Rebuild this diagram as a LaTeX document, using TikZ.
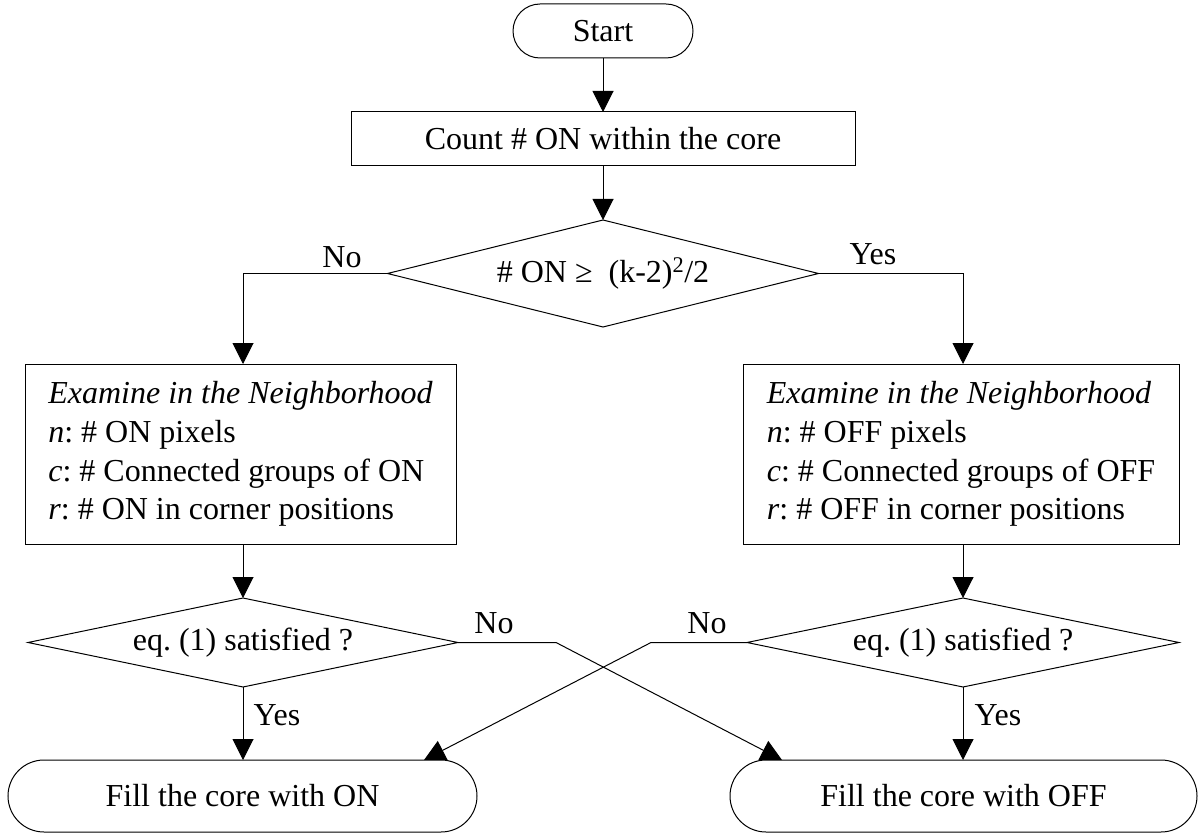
\documentclass[tikz,border=0pt]{standalone}
\usepackage{fontspec}
\setmainfont{Liberation Serif}
\usetikzlibrary{arrows.meta,shapes.geometric}
\frenchspacing
\begin{document}
\begin{tikzpicture}[x=1pt,y=-1pt,
  font=\fontsize{32}{38.7}\selectfont,
  every node/.style={inner sep=0pt, outer sep=0pt},
  line/.style={draw=black, line width=1pt},
  arr/.style={line, -{Triangle[length=21pt,width=21pt]}},
  term/.style={line, rectangle, rounded corners=#1},
  procbox/.style={line, rectangle},
  decision/.style={line, diamond, inner sep=2pt},
  lbl/.style={inner sep=0pt}
]
\useasboundingbox (0,0) rectangle (1198,834);

% nodes
\node[term=27pt, minimum width=180pt, minimum height=54pt] (start) at (603,31) {Start};
\node[procbox, minimum width=504pt, minimum height=54pt] (count) at (603,139) {Count \# ON within the core};
\node[decision, aspect=4.03, minimum width=431pt, minimum height=107pt] (d1) at (603,273.5) {\# ON ≥~ (k-2)\textsuperscript{2}/2};

\node[procbox, minimum width=431pt, minimum height=180pt, align=left] (lbox) at (240.5,454)
  {\textit{Examine in the Neighborhood}\\ \textit{n}: \# ON pixels\\ \textit{c}: \# Connected groups of ON\\ \textit{r}: \# ON in corner positions};
\node[procbox, minimum width=436pt, minimum height=180pt, align=left] (rbox) at (961,454)
  {\textit{Examine in the Neighborhood}\\ \textit{n}: \# OFF pixels\\ \textit{c}: \# Connected groups of OFF\\ \textit{r}: \# OFF in corner positions};

\node[decision, aspect=4.84, minimum width=430pt, minimum height=89pt] (d2l) at (243,642.5) {eq.\ (1) satisfied ?};
\node[decision, aspect=4.84, minimum width=432pt, minimum height=89pt] (d2r) at (963,642.5) {eq.\ (1) satisfied ?};

\node[term=36pt, minimum width=469pt, minimum height=72pt] (tl) at (242.5,796) {Fill the core with ON};
\node[term=36pt, minimum width=467pt, minimum height=72pt] (tr) at (963.5,796) {Fill the core with OFF};

% labels
\node[lbl] (no1) at (342,257) {No};
\node[lbl] (yes1) at (873,254) {Yes};
\node[lbl] (no2) at (494,623) {No};
\node[lbl] (no3) at (707,623) {No};
\node[lbl] (yes2) at (277,715) {Yes};
\node[lbl] (yes3) at (998,715) {Yes};

% helper coordinates
\coordinate (lc) at (243,273.5);
\coordinate (rc) at (963,273.5);
\coordinate (xl) at (556,642.5);
\coordinate (xr) at (651,642.5);
\coordinate (el) at (782,0);
\coordinate (er) at (424,0);

% connectors
\draw[arr] (start) -- (count);
\draw[arr] (count) -- (d1);
\draw[arr] (d1.west) -- (lc) -- (lc |- lbox.north);
\draw[arr] (d1.east) -- (rc) -- (rc |- rbox.north);
\draw[arr] (d2l.north |- lbox.south) -- (d2l.north);
\draw[arr] (d2r.north |- rbox.south) -- (d2r.north);
\draw[arr] (d2l.south) -- (d2l.south |- tl.north);
\draw[arr] (d2r.south) -- (d2r.south |- tr.north);
\draw[arr] (d2l.east) -- (xl) -- (el |- tr.north);
\draw[arr] (d2r.west) -- (xr) -- (er |- tl.north);
\end{tikzpicture}
\end{document}
